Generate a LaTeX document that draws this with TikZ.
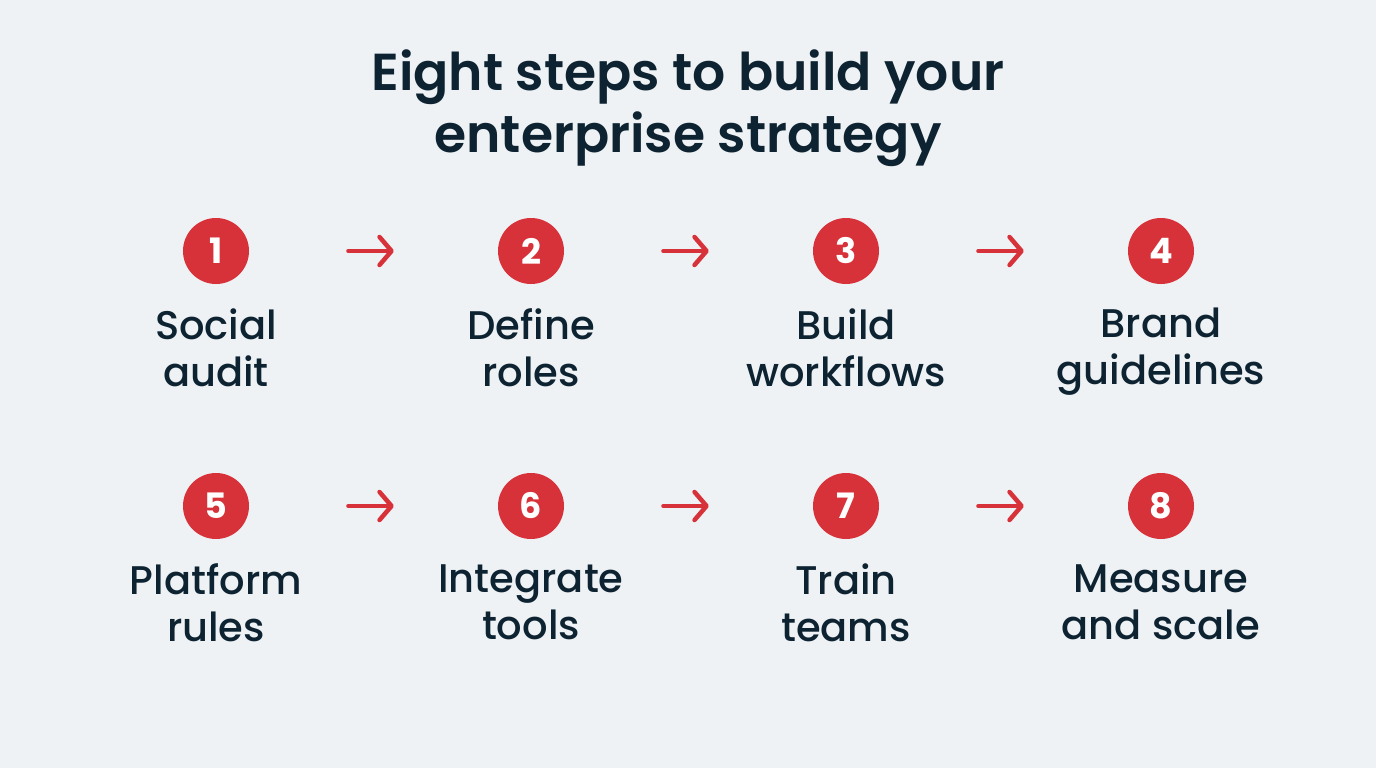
\documentclass[tikz,border=0pt]{standalone}
\usepackage{fontspec}
\setmainfont{Poppins}
\newfontfamily\medfont{Poppins Medium}
\newfontfamily\semifont{Poppins SemiBold}
\usetikzlibrary{arrows.meta}
\definecolor{bg}{HTML}{EEF2F4}
\definecolor{stepred}{HTML}{D7313A}
\definecolor{ink}{HTML}{0E2331}
\tikzset{
  numcircle/.style={circle,fill=stepred,minimum size=66pt,inner sep=0pt,text=white,font=\fontsize{35}{35}\selectfont\bfseries},
  steplabel/.style={align=center,text=ink,inner sep=0pt,anchor=north,font=\fontsize{40}{47}\selectfont\medfont},
  flowarrow/.style={draw=stepred,line width=4pt,line cap=round,-{Straight Barb[length=12pt,width=28pt,line width=4.5pt,round]},shorten <=99pt,shorten >=104pt}
}
\begin{document}
\begin{tikzpicture}[x=1pt,y=-1pt]
\fill[bg] (0,0) rectangle (1376,768);
\useasboundingbox (0,0) rectangle (1376,768);
\node[align=center,text=ink,inner sep=0pt,anchor=north,font=\fontsize{52}{62}\selectfont\semifont] (title) at (688,50) {\vphantom{Bl}Eight steps to build your\\enterprise strategy};
\foreach \i/\x/\y/\t in {1/216/251/{Social\\audit},2/531/251/{Define\\roles},3/846/251/{Build\\workflows},4/1161/251/{Brand\\guidelines},5/216/506/{Platform\\rules},6/531/506/{Integrate\\tools},7/846/506/{Train\\teams},8/1161/506/{Measure\\and scale}}{
  \node[numcircle] (c\i) at (\x,\y) {\i};
  \node[steplabel] (l\i) at (\x,\y+57) {\vphantom{Bl}\t};
}
\draw[flowarrow] (c1) -- (c2);
\draw[flowarrow] (c2) -- (c3);
\draw[flowarrow] (c3) -- (c4);
\draw[flowarrow] (c5) -- (c6);
\draw[flowarrow] (c6) -- (c7);
\draw[flowarrow] (c7) -- (c8);
\end{tikzpicture}
\end{document}
